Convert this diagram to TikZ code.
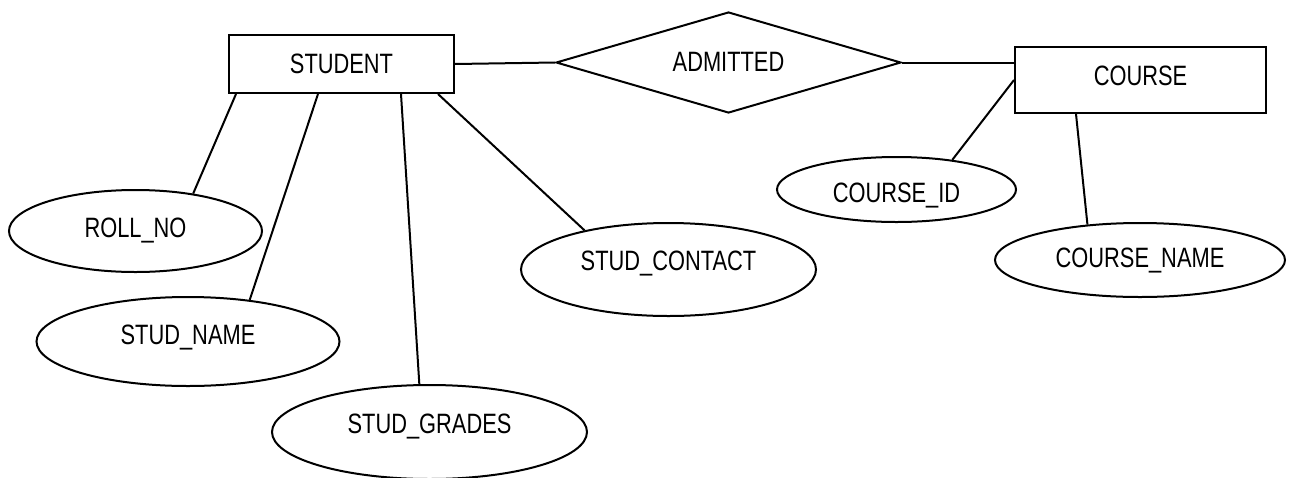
\documentclass[tikz,border=0pt]{standalone}
\usepackage{fontspec}
\setmainfont[FakeStretch=0.78]{Liberation Sans}
\usetikzlibrary{shapes.geometric}
\begin{document}
\begin{tikzpicture}[x=1pt,y=-1pt,line width=2pt,
  every node/.style={font=\fontsize{28}{32}\selectfont, inner sep=0pt, text height=20pt},
  entity/.style={draw, rectangle},
  attr/.style={draw, ellipse},
  rel/.style={draw, diamond, aspect=3.4},
  raise/.style={text depth=#1},
  link/.style={draw}]
\useasboundingbox (0,0) rectangle (1290,477);

% entities and relationship
\node[entity, raise=2pt, minimum width=225pt, minimum height=58pt] (student) at (341.5,64) {STUDENT};
\node[rel, raise=3pt, minimum width=345pt, minimum height=101pt] (admitted) at (728.5,62.5) {ADMITTED};
\node[entity, raise=10pt, minimum width=251pt, minimum height=66pt] (course) at (1140.5,80) {COURSE};

% attributes
\node[attr, raise=8pt, minimum width=253pt, minimum height=82pt] (rollno) at (135.5,231) {ROLL\_NO};
\node[attr, raise=15pt, minimum width=303pt, minimum height=89pt] (studname) at (188,341.5) {STUD\_NAME};
\node[attr, raise=18pt, minimum width=315pt, minimum height=94pt] (studgrades) at (429.5,432) {STUD\_GRADES};
\node[attr, raise=19pt, minimum width=295pt, minimum height=93pt] (studcontact) at (668.5,269.5) {STUD\_CONTACT};
\node[attr, text height=25pt, raise=0pt, minimum width=239pt, minimum height=65pt] (courseid) at (896.5,189.5) {COURSE\_ID};
\node[attr, raise=6pt, minimum width=290pt, minimum height=74pt] (coursename) at (1140,260) {COURSE\_NAME};

% connectors
\path[link] ([xshift=8pt]student.south west) -- (rollno.33);
\path[link] ([xshift=90pt]student.south west) -- (studname.34);
\path[link] ([xshift=173pt]student.south west) -- (studgrades.102.6);
\path[link] ([xshift=210pt]student.south west) -- (studcontact.155);
\path[link] (student.east) -- (admitted.west);
\path[link] (admitted.east) -- (course.west |- admitted.east);
\path[link] (course.west) -- (courseid.28.5);
\path[link] ([xshift=62pt]course.south west) -- (coursename.146.4);
\end{tikzpicture}
\end{document}
